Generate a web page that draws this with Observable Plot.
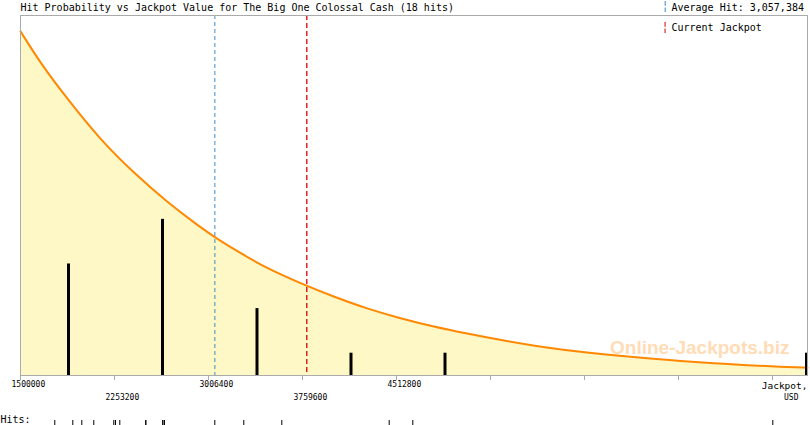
<!DOCTYPE html>
<html>
<head>
<meta charset="utf-8">
<script src="https://cdn.jsdelivr.net/npm/d3@7"></script>
<script src="https://cdn.jsdelivr.net/npm/@observablehq/plot@0.6"></script>
<style>
  body { margin: 0; background: #fff; overflow: hidden; }
  #chart svg { display: block; }
</style>
</head>
<body>
<div id="chart"></div>
<script>
/* global d3, Plot */

const title = 'Hit Probability vs Jackpot Value for The Big One Colossal Cash (18 hits)';
const avgHit = 3057384;
const currentJackpot = 3794000;
const xDomain = [1500000, 7806000];

// axis ticks, labels alternate between two rows
const axisTicks = [1500000, 2253200, 3006400, 3759600, 4512800, 5266000, 6019200, 6772400, 7525600];
const labelsRow1 = [1500000, 3006400, 4512800];
const labelsRow2 = [2253200, 3759600];

// probability curve (same units as hit counts)
const curveJackpot = [1500000, 1660000, 1874000, 2141000, 2408000, 2675000, 2942000, 3062000, 3263000,
  3477000, 3744000, 4010000, 4278000, 4545000, 4812000, 5079000, 5346000, 5720000, 5987000,
  6254000, 6522000, 6788000, 7055000, 7323000, 7590000, 7806000];
const curveLevel = [15.43, 14.0, 12.41, 10.56, 9.08, 7.77, 6.64, 6.18, 5.48,
  4.80, 4.13, 3.53, 2.99, 2.56, 2.19, 1.88, 1.59, 1.24, 1.06,
  0.91, 0.77, 0.65, 0.55, 0.46, 0.39, 0.35];

// histogram bars
const binJackpot = [1884600, 2637800, 3395000, 4148200, 4901400, 7798000];
const binHits = [5, 7, 3, 1, 1, 1];

// individual hits (strip at the bottom)
const hits = [1774800, 1919100, 1991200, 2087300, 2247600, 2261200, 2295700, 2504000, 2504000,
  2640200, 2640200, 2653800, 3056900, 3289200, 3593700, 4454300, 4643400, 7528000];

const curve = curveJackpot.map((j, i) => ({ jackpot: j, level: curveLevel[i] }));
const bins = binJackpot.map((j, i) => ({ jackpot: j, hits: binHits[i] }));

const mono = 'DejaVu Sans Mono, monospace';

const main = Plot.plot({
  width: 810,
  height: 410,
  marginTop: 15,
  marginBottom: 35,
  marginLeft: 20,
  marginRight: 3,
  x: { domain: xDomain, axis: null },
  y: { domain: [0, 16.14], axis: null },
  style: { fontFamily: mono, background: 'white', color: 'black' },
  marks: [
    Plot.areaY(curve, { x: 'jackpot', y: 'level', fill: '#fef8c7', curve: 'basis' }),
    Plot.text(['Online-Jackpots.biz'], {
      text: d => d, frameAnchor: 'bottom-right', textAnchor: 'end', lineAnchor: 'middle', dx: -18, dy: -28,
      fill: '#ffdcb6', fontSize: 19, fontWeight: 'bold', fontFamily: 'Liberation Sans, Arial, sans-serif'
    }),
    Plot.ruleX([avgHit], { stroke: '#3d8ec6', strokeDasharray: '4,3' }),
    Plot.ruleX([currentJackpot], { stroke: '#dd0000', strokeDasharray: '5,3', strokeWidth: 1.3 }),
    Plot.lineY(curve, { x: 'jackpot', y: 'level', stroke: '#ff8800', strokeWidth: 2, curve: 'basis' }),
    Plot.ruleX(bins, { x: 'jackpot', y1: 0, y2: 'hits', stroke: 'black', strokeWidth: 3 }),
    Plot.frame({ stroke: '#aaa' }),
    Plot.axisX(axisTicks, { tickSize: 5, stroke: '#aaa', tickFormat: () => '', label: null }),
    Plot.text(labelsRow1, {
      x: d => d, text: d => String(d), frameAnchor: 'bottom', textAnchor: 'start', lineAnchor: 'middle',
      dx: -9, dy: 9, fontSize: 8
    }),
    Plot.text(labelsRow2, {
      x: d => d, text: d => String(d), frameAnchor: 'bottom', textAnchor: 'start', lineAnchor: 'middle',
      dx: -9, dy: 22, fontSize: 8
    }),
    Plot.text(['Jackpot,'], {
      text: d => d, frameAnchor: 'bottom-right', textAnchor: 'end', lineAnchor: 'middle', dy: 10, fontSize: 9.5
    }),
    Plot.text(['USD'], {
      text: d => d, frameAnchor: 'bottom-right', textAnchor: 'end', lineAnchor: 'middle', dx: -9, dy: 22, fontSize: 8
    }),
    // title and legend
    Plot.text([title], {
      text: d => d, frameAnchor: 'top-left', textAnchor: 'start', lineAnchor: 'middle', dy: -8, fontSize: 10
    }),
    Plot.text(['¦'], {
      text: d => d, frameAnchor: 'top-left', lineAnchor: 'middle', dx: 641, dy: -9, fontSize: 12, fill: '#3d8ec6'
    }),
    Plot.text(['Average Hit: ' + d3.format(',')(avgHit)], {
      text: d => d, frameAnchor: 'top-left', textAnchor: 'start', lineAnchor: 'middle', dx: 651, dy: -8, fontSize: 10
    }),
    Plot.text(['¦'], {
      text: d => d, frameAnchor: 'top-left', lineAnchor: 'middle', dx: 641, dy: 12, fontSize: 12, fill: '#dd0000'
    }),
    Plot.text(['Current Jackpot'], {
      text: d => d, frameAnchor: 'top-left', textAnchor: 'start', lineAnchor: 'middle', dx: 651, dy: 12, fontSize: 10
    })
  ]
});

const strip = Plot.plot({
  width: 810,
  height: 15,
  marginTop: 10,
  marginBottom: 0,
  marginLeft: 20,
  marginRight: 3,
  x: { domain: xDomain, axis: null },
  style: { fontFamily: mono, background: 'white', color: 'black' },
  marks: [
    Plot.tickX(hits, { x: d => d, stroke: 'black' }),
    Plot.text(['Hits:'], { text: d => d, frameAnchor: 'left', textAnchor: 'start', dx: -20, dy: -3, fontSize: 10 })
  ]
});

const chart = document.getElementById('chart');
chart.append(main);
chart.append(strip);
</script>
</body>
</html>
